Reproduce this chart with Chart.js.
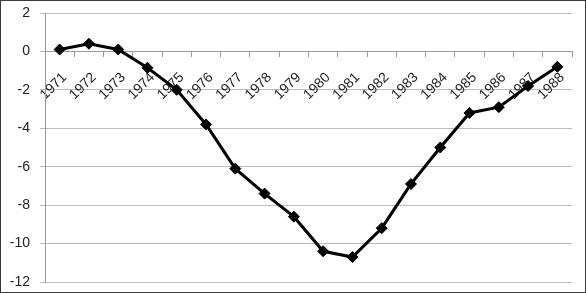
<!DOCTYPE html>
<html>
<head>
<meta charset="utf-8">
<script src="https://cdn.jsdelivr.net/npm/chart.js@4"></script>
<style>
  html, body { margin: 0; padding: 0; background: #fff; }
  #frame { width: 586px; height: 293px; box-sizing: border-box; border: 1px solid #3a3a3a; }
  canvas { display: block; }
</style>
</head>
<body>
<div id="frame"><canvas id="chart" width="584" height="291"></canvas></div>
<script>
const years = ["1971", "1972", "1973", "1974", "1975", "1976", "1977", "1978", "1979",
               "1980", "1981", "1982", "1983", "1984", "1985", "1986", "1987", "1988"];
const values = [0.1, 0.4, 0.1, -0.85, -2.0, -3.8, -6.1, -7.4, -8.6,
                -10.4, -10.7, -9.2, -6.9, -5.0, -3.2, -2.9, -1.8, -0.8];
const yMin = -12;
const yMax = 2;
const yStep = 2;

const font = { family: "'Liberation Sans', Arial, sans-serif", size: 14 };

new Chart(document.getElementById("chart"), {
  type: "line",
  data: {
    labels: years,
    datasets: [{
      data: values,
      borderColor: "#000",
      backgroundColor: "#000",
      borderWidth: 3,
      pointStyle: "rectRot",
      pointRadius: 5.5,
      pointBorderWidth: 1,
      pointBackgroundColor: "#000",
      pointBorderColor: "#000",
      tension: 0,
      fill: false
    }]
  },
  options: {
    responsive: false,
    animation: false,
    layout: { padding: { left: 0, top: 12, right: 13, bottom: 10 } },
    plugins: { legend: { display: false }, tooltip: { enabled: false } },
    scales: {
      x: {
        position: { y: 0 },
        offset: true,
        // keep the plot area where the layout padding puts it
        afterFit: (s) => { s.paddingLeft = 0; s.paddingRight = 0; },
        grid: { offset: true, drawOnChartArea: false, drawTicks: true, tickLength: 5, color: "#9a9a9a" },
        border: { color: "#9a9a9a" },
        ticks: { autoSkip: false, minRotation: 45, maxRotation: 45, padding: 13, labelOffset: 5, color: "#222", font }
      },
      y: {
        min: yMin,
        max: yMax,
        afterFit: (s) => { s.width = 44; s.paddingTop = 0; s.paddingBottom = 0; },
        grid: { color: "#bcbcbc", tickLength: 5 },
        border: { color: "#9a9a9a" },
        ticks: { stepSize: yStep, padding: 10, color: "#222", font }
      }
    }
  }
});
</script>
</body>
</html>
